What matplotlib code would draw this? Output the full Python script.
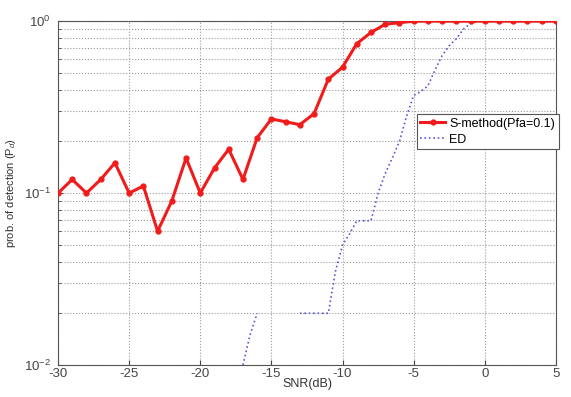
import numpy as np
import matplotlib
matplotlib.use('Agg')
import matplotlib.pyplot as plt
from matplotlib.ticker import LogLocator, NullFormatter

plt.rcParams['font.family'] = ['Liberation Sans', 'DejaVu Sans']
plt.rcParams['mathtext.fontset'] = 'custom'
plt.rcParams['mathtext.rm'] = 'Liberation Sans'
plt.rcParams['mathtext.it'] = 'Liberation Sans:italic'
plt.rcParams['axes.unicode_minus'] = False

# S-method (Pfa=0.1), one point per dB
snr_s = np.arange(-30, 6)
pd_s = [0.10, 0.12, 0.10, 0.12, 0.15, 0.10, 0.11, 0.06, 0.09, 0.16,
        0.10, 0.14, 0.18, 0.12, 0.21, 0.27, 0.26, 0.25, 0.29, 0.46,
        0.54, 0.74, 0.86, 0.96, 0.98, 1.0, 1.0, 1.0, 1.0, 1.0,
        1.0, 1.0, 1.0, 1.0, 1.0, 1.0]

# energy detector, half-dB steps (nan = zero detections, not drawn on log axis)
snr_ed = np.arange(-17, 5.5, 0.5)
pd_ed = [0.010, 0.015, 0.020, np.nan, np.nan, np.nan, np.nan, np.nan,
         0.020, 0.020, 0.020, 0.020, 0.020, 0.035, 0.050, 0.058, 0.069,
         0.069, 0.069, 0.10, 0.13, 0.16, 0.20, 0.28, 0.37, 0.39, 0.42,
         0.52, 0.63, 0.72, 0.79, 0.90, 0.97, 1.0, 1.0, 1.0, 1.0, 1.0,
         1.0, 1.0, 1.0, 1.0, 1.0, 1.0, 1.0]


def main():
    fig = plt.figure(figsize=(5.71, 3.97), dpi=100)
    ax = fig.add_axes([0.1016, 0.0806, 0.872, 0.866])

    ax.semilogy(snr_ed, pd_ed, linestyle=':', color='#5a5ad2', linewidth=1.2,
                label='ED', zorder=2)
    ax.semilogy(snr_s, pd_s, '-o', color='#f21b1b', linewidth=2.2,
                markersize=3.5, label='S-method(Pfa=0.1)', zorder=3)

    ax.set_xlim(-30, 5)
    ax.set_ylim(1e-2, 1)
    ax.set_xticks(np.arange(-30, 6, 5))
    ax.yaxis.set_major_locator(LogLocator(base=10))
    ax.yaxis.set_minor_locator(LogLocator(base=10, subs=np.arange(2, 10)))
    ax.yaxis.set_minor_formatter(NullFormatter())

    ax.grid(True, which='major', axis='both', linestyle=':', color='#9a9a9a', linewidth=0.8)
    ax.grid(True, which='minor', axis='y', linestyle=':', color='#9a9a9a', linewidth=0.8)
    ax.tick_params(which='both', direction='in', labelsize=9.5, colors='#444444')
    ax.tick_params(axis='x', pad=2)
    ax.tick_params(axis='y', pad=5)
    for s in ax.spines.values():
        s.set_color('#555555')

    ax.set_xlabel('SNR(dB)', fontsize=9, labelpad=-1, color='#333333')
    ax.set_ylabel('prob. of detection (P$_d$)', fontsize=8, color='#333333', labelpad=4)

    handles, labels = ax.get_legend_handles_labels()
    leg = ax.legend(handles[::-1], labels[::-1], loc='upper left',
                    bbox_to_anchor=(0.72, 0.73), fontsize=9, frameon=True,
                    fancybox=False, edgecolor='#555555', framealpha=1,
                    handlelength=2.0, borderpad=0.3, labelspacing=0.3,
                    handletextpad=0.3, borderaxespad=0)
    leg.get_frame().set_linewidth(0.8)

    fig.savefig('out.png', dpi=100)


if __name__ == '__main__':
    main()
